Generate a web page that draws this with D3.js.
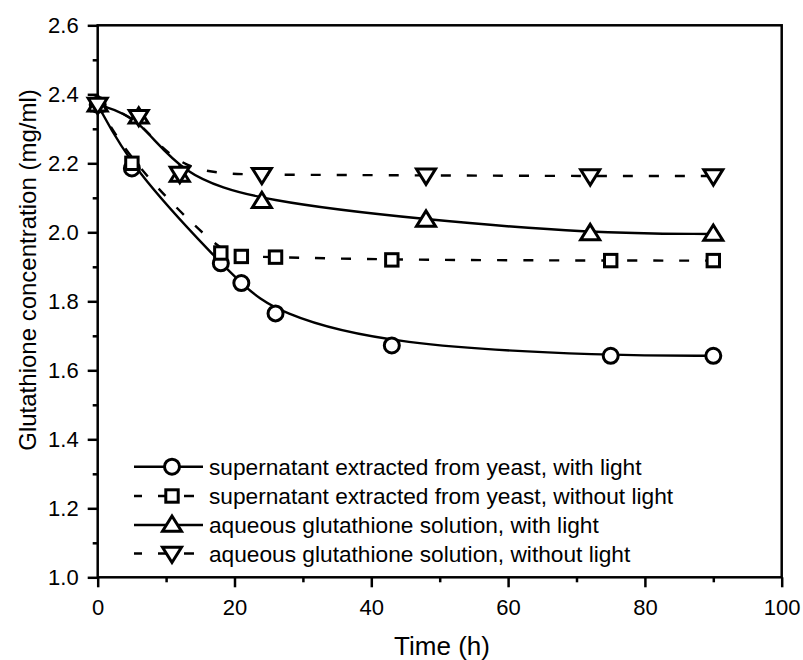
<!DOCTYPE html>
<html><head><meta charset="utf-8">
<script src="https://cdn.jsdelivr.net/npm/d3@7"></script>
<style>body{margin:0;background:#fff}svg{display:block}text{font-family:"Liberation Sans",Arial,sans-serif;fill:#000}</style>
</head><body><svg id="c" width="803" height="660"></svg>
<script>
const timeCircle = [0, 5, 18, 21, 26, 43, 75, 90];
const concCircle = [2.37, 2.185, 1.91, 1.853, 1.765, 1.672, 1.642, 1.642];
const timeSquare = [0, 5, 18, 21, 26, 43, 75, 90];
const concSquare = [2.37, 2.2, 1.94, 1.93, 1.928, 1.92, 1.918, 1.918];
const timeUp = [0, 6, 12, 24, 48, 72, 90];
const concUp = [2.37, 2.335, 2.166, 2.09, 2.036, 1.997, 1.995];
const timeDown = [0, 6, 12, 24, 48, 72, 90];
const concDown = [2.37, 2.335, 2.17, 2.167, 2.165, 2.163, 2.163];
const seriesNames = [
  "supernatant extracted from yeast, with light",
  "supernatant extracted from yeast, without light",
  "aqueous glutathione solution, with light",
  "aqueous glutathione solution, without light"
];
const xTicks = [0, 20, 40, 60, 80, 100];
const yTicks = [1.0, 1.2, 1.4, 1.6, 1.8, 2.0, 2.2, 2.4, 2.6];

const series = [
  {name: seriesNames[0], t: timeCircle, v: concCircle, sym: "circle", dash: null},
  {name: seriesNames[1], t: timeSquare, v: concSquare, sym: "square", dash: "10,16"},
  {name: seriesNames[2], t: timeUp, v: concUp, sym: "up", dash: null},
  {name: seriesNames[3], t: timeDown, v: concDown, sym: "down", dash: "10,16"}
];

const L = 97.7, R = 781.7, T = 25.3, B = 577.3;
const x = d3.scaleLinear().domain([0, 100]).range([L, R]);
const y = d3.scaleLinear().domain([1.0, 2.6]).range([B, T]);
const svg = d3.select("#c");

svg.append("rect").attr("x", L).attr("y", T).attr("width", R - L).attr("height", B - T)
  .attr("fill", "none").attr("stroke", "#000").attr("stroke-width", 2.5);

svg.append("g").attr("transform", `translate(0,${B})`)
  .call(d3.axisBottom(x).tickValues(xTicks).tickFormat(d3.format("d")).tickSize(10).tickPadding(12));
svg.append("g").attr("transform", `translate(0,${B})`)
  .call(d3.axisBottom(x).tickValues(d3.range(10, 100, 20)).tickFormat("").tickSize(5));
svg.append("g").attr("transform", `translate(${L},0)`)
  .call(d3.axisLeft(y).tickValues(yTicks).tickFormat(d3.format(".1f")).tickSize(10).tickPadding(9));
svg.append("g").attr("transform", `translate(${L},0)`)
  .call(d3.axisLeft(y).tickValues(d3.range(1.1, 2.6, 0.2)).tickFormat("").tickSize(5));
svg.selectAll(".domain").remove();
svg.selectAll(".tick line").attr("stroke", "#000").attr("stroke-width", 2.5);
svg.selectAll(".tick text").style("font-size", "22px").style("font-family", '"Liberation Sans",Arial,sans-serif');

svg.append("text").attr("x", 442).attr("y", 655).attr("text-anchor", "middle")
  .style("font-size", "26px").text("Time (h)");
svg.append("text").attr("transform", `translate(36,270) rotate(-90)`)
  .attr("text-anchor", "middle").style("font-size", "24px").text("Glutathione concentration (mg/ml)");

const line = d3.line().curve(d3.curveBasis);

function marker(g, sym, cx, cy) {
  const sw = 3;
  if (sym === "circle") {
    g.append("circle").attr("cx", cx).attr("cy", cy).attr("r", 7.5)
      .attr("fill", "#fff").attr("stroke", "#000").attr("stroke-width", sw);
  } else if (sym === "square") {
    g.append("rect").attr("x", cx - 6.2).attr("y", cy - 6.2).attr("width", 12.4).attr("height", 12.4)
      .attr("fill", "#fff").attr("stroke", "#000").attr("stroke-width", sw);
  } else {
    const s = sym === "up" ? -1 : 1, h = 9;
    const pts = [[cx, cy + s * h], [cx - 9.5, cy - s * h * 0.7], [cx + 9.5, cy - s * h * 0.7]];
    g.append("path").attr("d", "M" + pts.map(p => p.join(",")).join("L") + "Z")
      .attr("fill", "#fff").attr("stroke", "#000").attr("stroke-width", sw).attr("stroke-linejoin", "miter");
  }
}

const plot = svg.append("g");
series.forEach(s => {
  const pts = s.t.map((t, i) => [x(t), y(s.v[i])]);
  plot.append("path").attr("d", line(pts)).attr("fill", "none").attr("stroke", "#000")
    .attr("stroke-width", 2.4).attr("stroke-dasharray", s.dash);
});
series.forEach(s => {
  s.t.forEach((t, i) => marker(plot, s.sym, x(t), y(s.v[i])));
});

const legY = [466.7, 496, 525, 553.5];
series.forEach((s, i) => {
  const g = svg.append("g");
  g.append("line").attr("x1", 134).attr("x2", 203).attr("y1", legY[i]).attr("y2", legY[i])
    .attr("stroke", "#000").attr("stroke-width", 2.4).attr("stroke-dasharray", s.dash ? "10,16" : null)
    .attr("stroke-dashoffset", s.dash ? 2 : null);
  marker(g, s.sym, 172, legY[i]);
  g.append("text").attr("x", 209).attr("y", legY[i] + 8).style("font-size", "22.7px").text(s.name);
});
</script></body></html>
